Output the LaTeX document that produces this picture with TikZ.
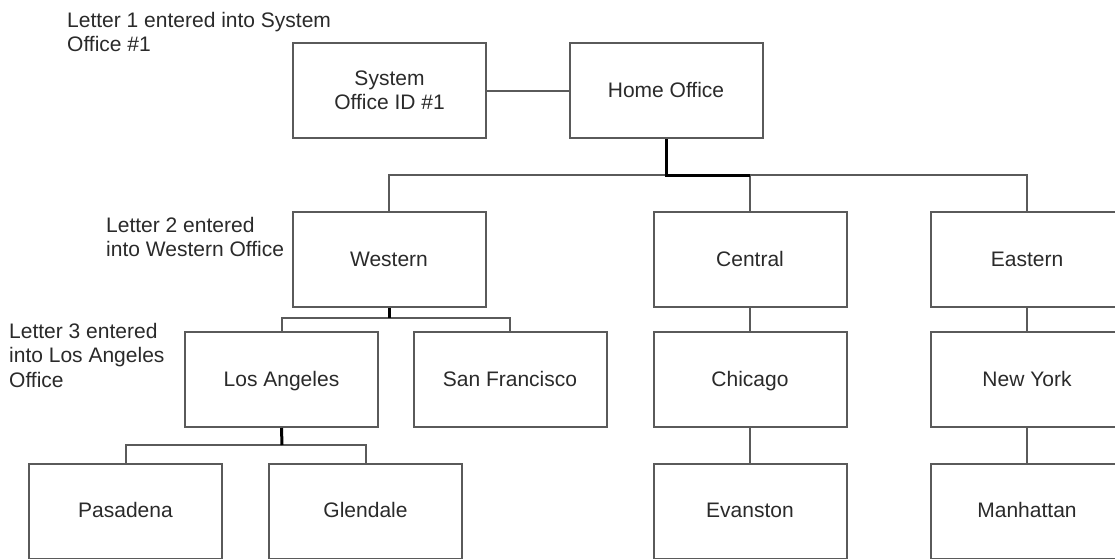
\documentclass[tikz,border=0pt]{standalone}
\usepackage{fontspec}
\setmainfont{Liberation Sans}
\definecolor{boxgray}{HTML}{5A5A5A}
\definecolor{txtgray}{HTML}{2A2A2A}
\tikzset{
  office/.style={draw=boxgray, line width=2pt, rectangle, minimum width=193pt, minimum height=95pt, inner sep=0pt, align=center, text=txtgray, font=\fontsize{21}{24.5}\selectfont},
  office1/.style={office, text height=15pt, text depth=2pt},
  link/.style={draw=boxgray, line width=2pt},
  mainlink/.style={draw=black, line width=3pt},
  note/.style={anchor=north west, inner sep=0pt, align=left, text=txtgray, font=\fontsize{21}{24.5}\selectfont}
}
\begin{document}
\begin{tikzpicture}[x=1pt, y=-1pt]
\clip (0,0) rectangle (1115,558);
\fill[white] (0,0) rectangle (1115,558);
% boxes
\node[office] (sys) at (389.5,90.5) {System\\Office ID \#1};
\node[office1] (home) at (666,90.5) {Home Office};
\node[office1] (western) at (389,259.5) {Western};
\node[office1] (central) at (750,259.5) {Central};
\node[office1] (eastern) at (1027,259.5) {Eastern};
\node[office1] (la) at (281.5,379.5) {Los Angeles};
\node[office1] (sf) at (510,379.5) {San Francisco};
\node[office1] (chicago) at (750,379.5) {Chicago};
\node[office1] (ny) at (1027,379.5) {New York};
\node[office1] (pasadena) at (125.5,511) {Pasadena};
\node[office1] (glendale) at (365.5,511) {Glendale};
\node[office1] (evanston) at (750,511) {Evanston};
\node[office1] (manhattan) at (1027,511) {Manhattan};
% notes
\node[note] (n1) at (67,12) {Letter 1 entered into System\\Office \#1};
\node[note] (n2) at (106,217) {Letter 2 entered\\into Western Office};
\node[note] (n3) at (9,323) {Letter 3 entered\\into Los Angeles\\Office};
% bus coordinates
\coordinate (b1) at (666,175);
\coordinate (b2) at (389,318);
\coordinate (b3) at (282,445);
% connectors
\draw[link] (sys.east) -- (home.west);
\draw[link] (western.north) |- (b1) -| (eastern.north);
\draw[link] (b1) -| (central.north);
\draw[mainlink] (home.south) -- (b1) -- (b1 -| central.north);
\draw[link] (la.north) |- (b2) -| (sf.north);
\draw[mainlink] (western.south) -- (b2);
\draw[link] (pasadena.north) |- (b3) -| (glendale.north);
\draw[mainlink] (la.south) -- (b3);
\draw[link] (central.south) -- (chicago.north);
\draw[link] (chicago.south) -- (evanston.north);
\draw[link] (eastern.south) -- (ny.north);
\draw[link] (ny.south) -- (manhattan.north);
\end{tikzpicture}
\end{document}
